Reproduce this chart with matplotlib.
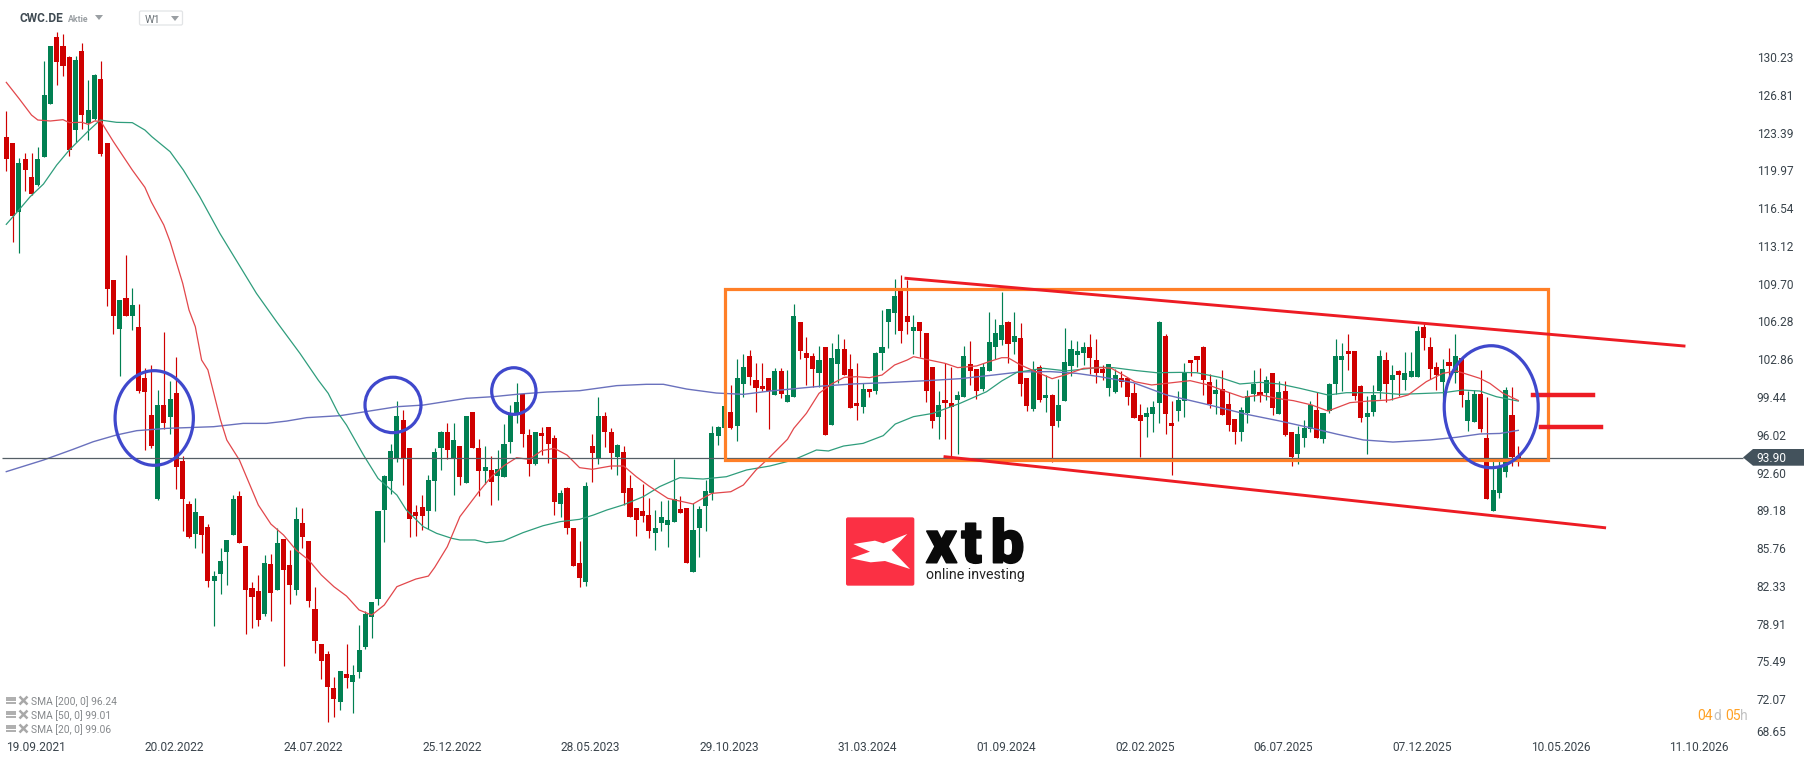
import numpy as np
import matplotlib
matplotlib.use("Agg")
import matplotlib.pyplot as plt
import matplotlib.patheffects as pe
from matplotlib.patches import Ellipse, Rectangle, Polygon, FancyBboxPatch

plt.rcParams['font.family'] = ['Roboto', 'DejaVu Sans']

# weekly candles, R = down, G = up
bar_dirs = ("RRGRRGGGRR" "RGRGGRRRGR" "GRRRGRGRRR" "GRRGGGGRRR" "RGRGRRGRRR"
            "RRRGRGGGGG" "GGGRRRRGGG" "RGRGRRGRGG" "GGRRGRRRGR" "RRGRGRRGRR"
            "RRRGGGGRRG" "GGGGGRGGRR" "RRGRGGRRRG" "RGGRRRGRGG" "GGRRGRRRGR"
            "RGGRRGGGGR" "GRRGRGRGGG" "GGRRRGGRRR" "RGGGRRGGRR" "RRGRRRGGGR"
            "GRGRRGGGRG" "GGGRRRGGGR" "GRGGGRRRGR" "GRGGRRGGGR" "R")

highs = [125.35, 122.45, 121.09, 121.54, 121.54, 122.08, 129.87, 131.23, 132.50, 132.32,
         130.33, 130.33, 131.51, 128.15, 128.70, 129.87, 122.45, 110.04, 108.23, 112.30,
         109.31, 107.86, 102.07, 102.34, 100.07, 105.33, 100.89, 103.06, 94.09, 90.02,
         90.29, 88.66, 87.93, 83.68, 85.76, 86.49, 90.56, 90.92, 85.94, 82.68,
         83.32, 85.13, 85.22, 87.57, 86.58, 85.58, 89.47, 89.38, 86.40, 82.23,
         77.07, 76.43, 74.08, 74.62, 77.07, 75.16, 78.79, 80.05, 80.87, 89.11,
         92.37, 95.18, 99.08, 98.26, 94.82, 89.66, 90.56, 92.37, 94.82, 96.36,
         97.08, 97.08, 95.00, 97.72, 98.08, 95.63, 95.00, 94.09, 94.64, 96.99,
         98.71, 100.71, 99.71, 96.54, 96.27, 96.72, 96.72, 96.00, 91.01, 91.29,
         87.57, 86.40, 91.74, 96.09, 99.44, 98.08, 96.63, 95.18, 95.00, 92.37,
         89.38, 91.56, 90.29, 89.20, 90.02, 90.11, 93.82, 90.47, 89.38, 89.84,
         89.57, 91.92, 96.81, 96.81, 98.62, 100.53, 102.88, 103.34, 103.70, 102.52,
         102.52, 101.16, 102.07, 102.07, 101.89, 107.86, 106.23, 104.88, 103.43, 104.06,
         103.97, 104.33, 105.15, 104.69, 103.34, 102.52, 100.71, 100.17, 103.52, 107.32,
         107.41, 110.13, 110.49, 110.04, 106.87, 106.23, 105.24, 102.16, 99.98, 102.52,
         102.16, 99.98, 104.06, 104.51, 101.98, 102.52, 107.14, 106.51, 108.95, 106.32,
         107.14, 106.14, 101.16, 102.70, 102.34, 101.43, 99.71, 101.07, 105.69, 104.60,
         104.51, 104.42, 105.15, 104.69, 102.34, 102.43, 101.98, 101.80, 101.16, 100.71,
         98.81, 98.53, 99.08, 106.32, 105.15, 99.08, 99.98, 102.52, 102.79, 103.15,
         104.06, 101.52, 101.07, 101.89, 99.89, 97.45, 98.53, 100.07, 101.89, 102.07,
         101.34, 101.61, 100.89, 100.89, 96.27, 96.81, 97.36, 99.08, 99.89, 97.99,
         100.71, 104.69, 104.33, 105.15, 103.61, 100.53, 99.53, 100.53, 103.70, 103.52,
         102.34, 101.89, 103.52, 103.52, 105.87, 106.05, 104.88, 102.61, 102.88, 103.88,
         105.15, 102.97, 99.98, 100.07, 101.88, 99.44, 93.91, 93.82, 100.34, 100.34,
         95.00]

body_tops = [122.99, 122.45, 120.64, 121.00, 119.37, 121.00, 126.79, 131.23, 132.05, 131.23,
             130.24, 129.97, 130.78, 125.44, 128.61, 128.24, 122.45, 110.04, 108.23, 108.41,
             107.77, 105.78, 101.16, 97.81, 98.71, 98.71, 99.26, 99.80, 93.64, 89.75,
             89.02, 88.66, 87.66, 83.22, 84.58, 86.49, 90.20, 90.47, 85.94, 82.14,
             81.87, 84.40, 84.31, 86.21, 86.58, 84.22, 88.39, 88.03, 86.40, 80.24,
             77.07, 76.16, 73.08, 74.62, 74.35, 74.26, 76.52, 79.78, 80.87, 89.11,
             92.28, 94.55, 97.72, 97.36, 94.82, 89.02, 89.47, 91.92, 94.46, 96.27,
             96.27, 95.54, 95.00, 97.72, 98.08, 94.82, 93.10, 92.83, 92.92, 95.18,
             97.81, 98.99, 99.71, 96.00, 96.27, 96.18, 96.72, 95.72, 90.74, 91.20,
             87.57, 84.40, 91.38, 95.00, 97.72, 97.72, 96.27, 95.09, 94.46, 91.20,
             89.38, 89.11, 88.75, 87.57, 88.57, 88.30, 90.20, 89.29, 89.38, 87.39,
             89.29, 90.92, 96.18, 96.72, 98.62, 98.08, 101.16, 102.16, 103.15, 100.98,
             100.44, 101.16, 101.80, 101.80, 99.62, 106.78, 106.23, 103.43, 103.15, 102.79,
             103.97, 102.97, 103.79, 103.79, 101.98, 98.90, 100.17, 100.17, 103.43, 103.97,
             107.41, 108.59, 109.04, 106.78, 105.78, 106.23, 105.24, 102.16, 98.72, 99.17,
             98.90, 99.62, 103.15, 102.43, 101.98, 102.16, 104.42, 105.24, 105.96, 106.23,
             104.97, 104.78, 101.16, 101.89, 102.16, 99.62, 99.62, 98.72, 102.61, 103.79,
             103.61, 103.97, 103.97, 102.79, 101.98, 102.43, 101.43, 101.16, 101.16, 99.80,
             97.81, 97.99, 98.53, 106.23, 104.97, 97.09, 99.17, 101.61, 102.79, 103.15,
             103.97, 100.80, 100.07, 100.17, 98.81, 97.45, 98.26, 99.53, 100.62, 99.89,
             100.98, 101.61, 99.89, 99.98, 96.27, 96.09, 96.63, 98.72, 98.26, 97.99,
             100.62, 103.15, 103.15, 103.61, 103.61, 100.44, 97.99, 99.62, 103.15, 102.79,
             101.43, 101.80, 101.61, 101.80, 105.42, 105.78, 103.97, 102.16, 101.98, 102.61,
             103.15, 102.97, 99.17, 99.71, 99.71, 95.72, 91.01, 93.09, 100.07, 97.80,
             94.09]

body_bottoms = [121.03, 115.83, 116.20, 120.00, 117.83, 118.64, 121.18, 125.98, 129.78, 129.42,
                121.81, 123.62, 124.98, 124.26, 124.62, 121.45, 109.22, 106.78, 105.60, 106.78,
                106.78, 99.98, 99.89, 95.00, 90.20, 97.08, 97.63, 93.10, 90.20, 86.76,
                87.03, 86.94, 82.77, 82.77, 83.41, 85.40, 86.94, 86.21, 81.96, 81.32,
                79.24, 79.78, 81.68, 81.96, 83.77, 82.41, 81.96, 86.76, 80.96, 77.34,
                75.53, 73.17, 72.08, 71.81, 73.99, 73.62, 74.53, 76.79, 79.51, 81.14,
                89.20, 91.83, 93.82, 93.91, 88.39, 88.66, 88.66, 89.11, 91.83, 94.82,
                94.64, 93.91, 92.19, 91.65, 94.82, 92.74, 92.74, 91.74, 92.28, 92.19,
                95.36, 97.81, 96.09, 93.37, 93.37, 95.91, 95.18, 89.93, 89.75, 87.57,
                84.13, 83.04, 82.68, 94.37, 93.82, 96.27, 94.37, 94.00, 90.74, 88.57,
                88.30, 88.66, 87.30, 87.12, 88.03, 87.84, 88.12, 88.93, 84.40, 83.59,
                87.57, 89.57, 90.74, 95.91, 96.60, 96.63, 96.81, 100.62, 101.25, 100.26,
                100.17, 99.98, 99.62, 99.71, 98.99, 99.44, 103.61, 102.97, 101.98, 101.61,
                96.00, 96.90, 102.43, 101.43, 98.44, 98.63, 98.53, 99.89, 99.98, 103.43,
                106.23, 107.05, 105.42, 106.23, 105.42, 105.42, 99.98, 97.27, 97.63, 98.90,
                98.53, 99.17, 99.44, 101.80, 99.98, 100.17, 101.80, 103.97, 104.60, 104.24,
                104.42, 100.62, 98.63, 98.35, 99.17, 99.35, 96.81, 97.27, 99.08, 102.25,
                103.24, 103.43, 102.97, 101.61, 101.61, 100.26, 99.89, 100.80, 99.44, 97.54,
                97.27, 97.63, 97.90, 98.90, 97.90, 96.81, 98.17, 99.08, 102.52, 102.79,
                100.98, 98.81, 99.71, 97.81, 96.90, 96.27, 96.27, 97.99, 99.71, 99.62,
                99.80, 98.44, 97.90, 96.00, 94.01, 94.28, 95.73, 96.54, 95.73, 95.64,
                98.17, 100.62, 102.79, 103.34, 99.53, 97.54, 97.63, 98.08, 99.98, 100.62,
                100.98, 101.43, 100.98, 101.25, 101.25, 104.78, 101.98, 101.43, 100.80, 102.25,
                101.61, 99.62, 97.27, 97.18, 96.54, 90.20, 89.11, 90.74, 92.64, 94.00,
                93.91]

lows = [119.91, 113.48, 112.48, 118.10, 117.74, 118.55, 121.18, 125.98, 127.70, 128.52,
        121.27, 122.51, 123.72, 122.72, 124.53, 121.27, 107.68, 105.15, 101.34, 106.78,
        105.51, 99.80, 94.64, 94.82, 90.11, 96.54, 96.09, 91.11, 87.30, 86.67,
        85.76, 85.31, 82.23, 78.70, 81.59, 82.41, 86.94, 86.21, 77.97, 78.51,
        78.70, 79.60, 79.15, 81.96, 75.07, 80.69, 81.50, 85.76, 80.42, 76.25,
        73.90, 70.00, 70.45, 71.09, 73.08, 70.82, 73.99, 76.61, 77.61, 80.60,
        86.30, 90.65, 93.55, 91.47, 86.76, 86.85, 87.39, 87.48, 89.11, 92.83,
        93.82, 90.56, 91.47, 91.65, 94.82, 90.47, 91.56, 89.66, 90.11, 92.19,
        94.37, 97.08, 94.91, 92.28, 93.28, 94.18, 93.46, 88.75, 88.57, 87.03,
        84.13, 82.23, 82.32, 91.74, 93.37, 94.91, 92.92, 92.37, 89.66, 88.57,
        86.85, 88.12, 86.67, 85.58, 87.30, 85.85, 88.12, 88.93, 84.40, 83.59,
        84.95, 87.30, 90.11, 95.09, 96.60, 96.54, 95.46, 99.44, 100.53, 98.08,
        99.98, 96.54, 99.62, 99.35, 98.99, 99.44, 102.88, 100.53, 100.35, 100.35,
        96.00, 96.90, 100.71, 101.43, 98.44, 97.36, 97.99, 99.44, 99.71, 101.89,
        103.88, 105.15, 104.33, 105.15, 103.34, 103.06, 98.99, 96.63, 95.64, 95.64,
        94.01, 94.28, 99.44, 100.53, 99.26, 99.98, 101.80, 102.88, 104.15, 102.52,
        103.34, 99.53, 98.17, 98.17, 98.99, 98.08, 93.55, 96.72, 99.08, 101.34,
        102.16, 102.34, 101.52, 100.71, 100.98, 99.53, 99.80, 100.35, 98.72, 97.54,
        94.01, 95.82, 96.27, 97.09, 96.09, 92.38, 97.27, 97.63, 101.34, 101.71,
        99.62, 98.44, 97.90, 97.81, 96.36, 95.18, 95.46, 97.09, 99.08, 98.99,
        99.17, 97.81, 97.90, 95.91, 93.19, 93.37, 94.91, 96.27, 95.73, 95.27,
        97.99, 99.71, 99.98, 101.89, 99.17, 97.18, 94.28, 97.72, 99.26, 98.99,
        99.17, 99.53, 100.07, 101.25, 101.25, 103.70, 101.07, 100.07, 99.17, 100.80,
        100.71, 98.53, 96.36, 97.18, 96.27, 90.20, 89.11, 90.29, 92.19, 93.19,
        93.19]

sma20_bars = [0, 2, 4, 5, 7, 9, 10, 12, 13, 14, 15, 17, 20, 22, 23, 25, 26, 28, 29, 30, 31, 32, 34, 35, 37,
              40, 42, 44, 46, 48, 50, 52, 54, 56, 58, 60, 62, 65, 67, 68, 70, 72, 75, 77, 79, 81, 83, 85, 87,
              89, 91, 93, 96, 98, 100, 102, 105, 109, 111, 112, 115, 117, 119, 121, 124, 125, 127, 129, 131,
              133, 135, 137, 139, 141, 143, 144, 146, 149, 151, 154, 156, 158, 159, 161, 163, 166, 168, 171,
              174, 175.4, 177.3, 179.1, 181.8, 184.2, 187.9, 190.8, 193.7, 196.3, 199.2, 201.6, 204.3, 207.2,
              209.8, 213.3, 216.4, 219.6, 222.5, 225.4, 228, 230.2, 233.9, 235.5, 237.6, 240]
sma20_vals = [127.94, 126.49, 124.98, 124.53, 124.44, 124.56, 124.29, 124.32, 124.14, 124.44, 124.41, 122.57,
              120.00, 118.43, 117.13, 115.02, 113.51, 109.74, 107.32, 105.81, 102.79, 101.89, 97.36, 95.54, 93.73,
              89.66, 87.93, 86.94, 85.58, 84.67, 83.32, 82.26, 81.41, 80.15, 79.69, 80.60, 82.26, 82.95, 83.22,
              84.01, 85.88, 88.60, 90.86, 92.22, 93.22, 93.94, 93.79, 94.58, 94.79, 94.18, 93.04, 92.89, 93.19,
              93.19, 92.22, 91.38, 90.26, 89.75, 90.41, 90.71, 90.86, 91.47, 92.83, 93.89, 95.61, 96.60, 97.96,
              99.77, 100.62, 101.22, 101.28, 101.19, 101.43, 102.34, 102.79, 103.09, 102.85, 102.49, 102.10,
              102.25, 102.64, 103.00, 103.00, 102.34, 101.83, 101.10, 101.43, 102.04, 102.10, 102.04, 101.43,
              100.83, 100.53, 100.68, 100.92, 100.53, 99.92, 99.41, 99.62, 99.32, 99.11, 98.72, 98.17, 98.93,
              99.08, 99.17, 99.62, 100.83, 101.58, 101.80, 101.13, 100.67, 99.77, 99.13]

sma50_bars = [0, 2, 3.8, 5.9, 8, 10, 12.9, 14.9, 17.5, 20, 22, 23.1, 26, 28.1, 30.7, 33.9, 39.7, 42.9, 46.6,
              49.5, 51.1, 52.7, 54, 56.7, 59, 62, 63.5, 66.2, 68.3, 70.7, 72, 74.4, 76.2, 78.9, 82, 85.2, 87.9,
              91, 93.2, 95.3, 97.9, 101.1, 103.7, 106.9, 110.6, 114.3, 117.5, 121.2, 124.9, 128.6, 130.5,
              132.9, 136, 139.2, 141.1, 144, 147.1, 151.4, 155.6, 158, 160.4, 164.6, 168.3, 173.6, 175.7,
              179.4, 182.6, 186.3, 188.9, 192.6, 195.8, 199, 202.1, 205.3, 209.8, 212.7, 218, 221.2, 228.1,
              231.2, 233.9, 236.5, 240]
sma50_vals = [115.08, 116.38, 117.59, 118.73, 120.45, 121.81, 123.47, 124.53, 124.32, 124.29, 123.62, 123.02,
              121.66, 120.00, 117.59, 114.26, 108.83, 106.26, 103.40, 100.98, 99.77, 97.96, 96.90, 94.18, 92.07,
              90.56, 89.20, 87.69, 87.09, 86.64, 86.49, 86.49, 86.24, 86.40, 87.15, 87.78, 88.15, 88.36, 88.75,
              89.20, 89.66, 90.41, 91.32, 92.13, 92.01, 92.22, 92.83, 93.19, 93.73, 94.64, 94.55, 95.00, 95.24,
              95.94, 96.99, 97.66, 97.96, 98.87, 99.92, 100.89, 101.67, 102.04, 101.80, 102.13, 102.10, 101.83,
              101.64, 101.67, 101.64, 101.22, 100.62, 100.77, 100.62, 100.23, 99.62, 99.83, 99.83, 99.68, 99.83,
              100.07, 99.98, 99.47, 99.07]

sma200_bars = [0, 3.2, 5.9, 10.6, 13.8, 17.5, 20.7, 25.5, 32.9, 37.6, 41.3, 44.5, 47.7, 53, 62, 66.2, 73, 77.3,
               81.5, 85.8, 91, 96.9, 101.6, 104.3, 108, 112.7, 117, 121.2, 129.7, 134.4, 139.7, 146.1, 151.4,
               156.7, 160.9, 165.7, 169.9, 173.6, 178.9, 184.2, 190.5, 196.9, 202.1, 207.4, 211.1, 215.4, 220.1,
               226, 230.2, 233.9, 237.1, 240]
sma200_vals = [92.68, 93.25, 93.73, 94.70, 95.39, 96.00, 96.39, 96.60, 96.75, 97.05, 97.05, 97.26, 97.57, 97.75,
               98.56, 98.71, 99.32, 99.47, 99.71, 99.89, 100.01, 100.47, 100.59, 100.59, 100.16, 99.80, 99.68,
               99.98, 100.44, 100.62, 100.74, 100.92, 101.10, 101.43, 101.71, 101.74, 101.58, 101.28, 100.74,
               99.62, 98.78, 97.87, 97.27, 96.60, 96.09, 95.55, 95.36, 95.55, 95.79, 96.09, 96.14, 96.42]

price_ticks = [130.23, 126.81, 123.39, 119.97, 116.54, 113.12, 109.70, 106.28, 102.86, 99.44, 96.02, 92.60,
               89.18, 85.76, 82.33, 78.91, 75.49, 72.07]
date_ticks = ["19.09.2021", "20.02.2022", "24.07.2022", "25.12.2022", "28.05.2023", "29.10.2023", "31.03.2024",
              "01.09.2024", "02.02.2025", "06.07.2025", "07.12.2025", "10.05.2026", "11.10.2026"]
last_price = 93.90
sma_labels = ["SMA [200, 0] 96.24", "SMA [50, 0] 99.01", "SMA [20, 0] 99.06"]

W, H = 1816, 761
BAR_PX = 6.3
PRICE_PX = 11.04
RED = '#cf0000'
GREEN = '#018052'
TEXT = '#3a444c'

fig = plt.figure(figsize=(W / 100, H / 100), dpi=100, facecolor='white')

# main chart
axis_right = 1750
axis_bottom = 735
ax = fig.add_axes([0, 1 - axis_bottom / H, axis_right / W, axis_bottom / H])
ax.set_xlim(-1, axis_right / BAR_PX - 1)
ax.set_ylim(135.4 - axis_bottom / PRICE_PX, 135.4)

x = np.arange(len(highs))
colors = [RED if d == 'R' else GREEN for d in bar_dirs]
tops = np.array(body_tops)
bottoms = np.array(body_bottoms)
ax.vlines(x, lows, highs, colors=colors, lw=0.85, zorder=2)
ax.bar(x, tops - bottoms, bottom=bottoms, width=0.8, color=colors, zorder=2.5, linewidth=0)

ax.plot(sma200_bars, sma200_vals, color='#6a71bd', lw=1.0, zorder=3)
ax.plot(sma50_bars, sma50_vals, color='#2f9d7c', lw=0.9, zorder=3)
ax.plot(sma20_bars, sma20_vals, color='#e2474b', lw=0.9, zorder=3)

ax.hlines(last_price, -0.68, 275.7, color='#555f66', lw=0.9, zorder=3.5)

# drawings
ax.add_patch(Rectangle((114.1, 93.73), 130.6, 15.52, fill=False, ec='#ff7f27', lw=2.3, zorder=4))
ax.plot([142.8, 266.3], [110.19, 104.06], color='#ed1c24', lw=2.1, zorder=5)
ax.plot([149, 253.7], [94.03, 87.6], color='#ed1c24', lw=2.1, zorder=5)
ax.plot([242.3, 251.9], [99.59, 99.59], color='#ed1c24', lw=3.2, zorder=5)
ax.plot([243.6, 253.1], [96.69, 96.69], color='#ed1c24', lw=3.2, zorder=5)
for cx, cy, ew, eh in [(23.48, 97.54, 12.43, 8.57), (61.38, 98.72, 8.89, 5.02),
                       (80.56, 99.98, 7.03, 4.22), (235.7, 98.56, 14.92, 11.05)]:
    ax.add_patch(Ellipse((cx, cy), ew, eh, fill=False, ec='#3f48cc', lw=2.3, zorder=6))

ax.set_yticks(price_ticks)
ax.set_yticklabels([f"{p:.2f}" for p in price_ticks])
ax.yaxis.tick_right()
ax.set_xticks(np.arange(len(date_ticks)) * 22)
ax.set_xticklabels(date_ticks, ha='left')
ax.tick_params(axis='both', length=0, labelsize=8.6, labelcolor=TEXT)
ax.tick_params(axis='y', pad=4.8)
ax.tick_params(axis='x', pad=4.2)
for s in ax.spines.values():
    s.set_visible(False)

# screen furniture, in picture pixels
ui = fig.add_axes([0, 0, 1, 1], facecolor='none')
ui.set_xlim(0, W)
ui.set_ylim(H, 0)
ui.axis('off')

ui.text(1756.7, 732, "68.65", fontsize=8.6, color=TEXT, va='center')
ui.add_patch(Polygon([(1743, 457.5), (1753, 449), (1804, 449), (1804, 465.7), (1753, 465.7)], color='#43525c', lw=0))
ui.text(1756.7, 458, f"{last_price:.2f}", fontsize=8.6, color='white', va='center')

ui.text(20, 19, "CWC.DE", fontsize=8.6, fontweight='bold', color='#3f4a52', va='center')
ui.text(68, 19.5, "Aktie", fontsize=6.3, fontweight='bold', color='#9a9fa3', va='center')
ui.add_patch(Polygon([(95, 15), (103, 15), (99, 20)], color='#9a9fa3', lw=0))
ui.add_patch(FancyBboxPatch((139.5, 11), 43, 14, boxstyle="round,pad=0,rounding_size=1.5", fc='white', ec='#e2e4e6', lw=0.9))
ui.text(145, 19.7, "W1", fontsize=7.8, color='#6d7479', va='center')
ui.add_patch(Polygon([(171, 16), (179, 16), (175, 21)], color='#9a9fa3', lw=0))

for i, label in enumerate(sma_labels):
    ly = 701.7 + i * 14
    ui.hlines([ly - 4, ly - 1.5, ly + 1], 6, 16, color='#a8a8a8', lw=1.3)
    ui.plot([23], [ly - 1.5], marker='x', ms=5.5, mew=1.8, color='#a8a8a8')
    ui.text(31, ly, label, fontsize=7.4, color='#85888b', va='center')

# countdown
for tx, piece, col in [(1697.7, "04", '#ffa126'), (1713.3, "d", '#c2c2c2'),
                       (1725, "05", '#ffa126'), (1740, "h", '#c2c2c2')]:
    ui.text(tx, 716, piece, fontsize=10, color=col, va='center')

# logo, coordinates of a 720x300 box
logo = fig.add_axes([820 / W, 1 - 600 / H, 240 / W, 100 / H], facecolor='none')
logo.set_xlim(0, 720)
logo.set_ylim(300, 0)
logo.axis('off')
logo.add_patch(FancyBboxPatch((78, 52), 205, 205, boxstyle="round,pad=0,rounding_size=6", fc='#fb3044', ec='none'))
logo.add_patch(Polygon([(100, 132), (165, 122), (190, 130), (262, 102), (215, 150), (270, 207), (195, 183),
                        (152, 187), (92, 175), (150, 155)], fc='white', ec='none'))
for tx, letter in [(318, "x"), (424, "t"), (512, "b")]:
    logo.text(tx, 188, letter, fontsize=43, fontweight='black', color='#0a0a0a', family='Roboto', va='baseline',
              path_effects=[pe.withStroke(linewidth=1.2, foreground='#0a0a0a')])
logo.text(318, 238, "online investing", fontsize=10.2, color='#222222', va='baseline')

fig.savefig("out.png", dpi=100)
